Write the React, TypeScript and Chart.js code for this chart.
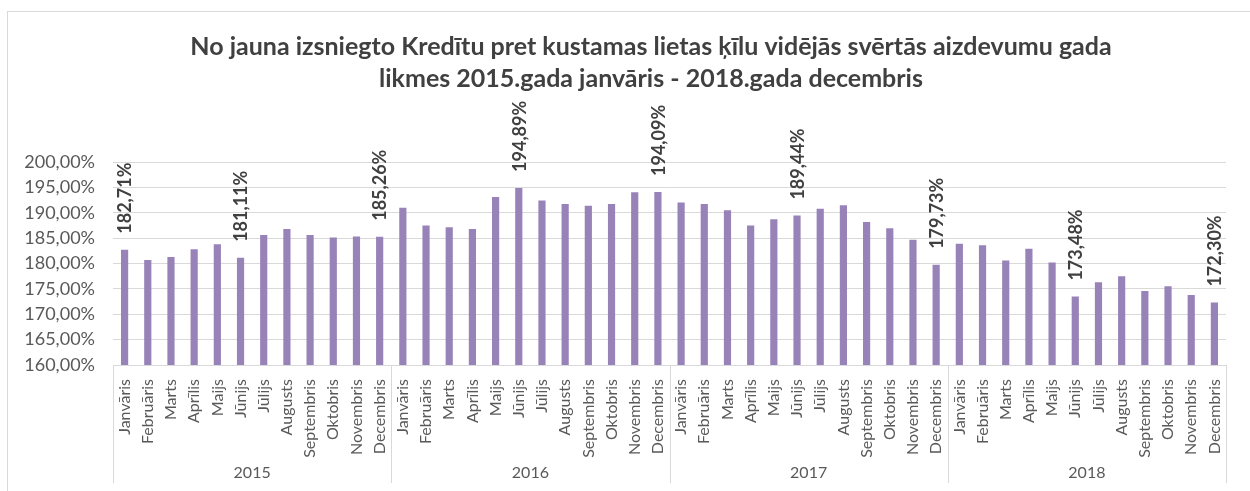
import React, { useEffect, useRef } from "react";
import { Chart, registerables } from "chart.js";

Chart.register(...registerables);

const titleLines = [
  "No jauna izsniegto Kredītu pret kustamas lietas ķīlu vidējās svērtās aizdevumu gada",
  "likmes 2015.gada janvāris - 2018.gada decembris",
];

const years = ["2015", "2016", "2017", "2018"];
const months = [
  "Janvāris", "Februāris", "Marts", "Aprīlis", "Maijs", "Jūnijs",
  "Jūlijs", "Augusts", "Septembris", "Oktobris", "Novembris", "Decembris",
];

const values2015 = [182.71, 180.7, 181.3, 182.8, 183.8, 181.11, 185.6, 186.8, 185.6, 185.1, 185.3, 185.26];
const values2016 = [191.0, 187.5, 187.15, 186.8, 193.1, 194.89, 192.4, 191.7, 191.4, 191.7, 194.05, 194.09];
const values2017 = [192.0, 191.7, 190.5, 187.5, 188.7, 189.44, 190.8, 191.5, 188.2, 186.95, 184.7, 179.73];
const values2018 = [183.9, 183.6, 180.6, 182.9, 180.2, 173.48, 176.3, 177.5, 174.6, 175.5, 173.8, 172.3];

// Months (index within the whole series) whose value is written above the bar
const labeledIndices = [0, 5, 11, 17, 23, 29, 35, 41, 47];

const yMin = 160;
const yMax = 200;
const yStep = 5;

const fmt = (v: number) => v.toFixed(2).replace(".", ",") + "%";

const FONT = "Lato, 'Open Sans', sans-serif";
const barColor = "#9883b9";
const gridColor = "#d9d9d9";
const axisText = "#595959";
const darkText = "#404040";

export default function App() {
  const canvasRef = useRef<HTMLCanvasElement | null>(null);

  useEffect(() => {
    const canvas = canvasRef.current;
    if (!canvas) return;

    const labels: string[] = [];
    years.forEach(() => months.forEach((m) => labels.push(m)));
    const data = [...values2015, ...values2016, ...values2017, ...values2018];

    const titlePlugin = {
      id: "customTitle",
      afterDraw(chart: any) {
        const ctx = chart.ctx;
        ctx.save();
        ctx.font = `bold 25px ${FONT}`;
        ctx.fillStyle = darkText;
        ctx.textAlign = "center";
        ctx.textBaseline = "alphabetic";
        ctx.fillText(titleLines[0], 651, 55);
        ctx.fillText(titleLines[1], 651, 87);
        ctx.restore();
      },
    };

    const groupAxisPlugin = {
      id: "groupAxis",
      afterDraw(chart: any) {
        const ctx = chart.ctx;
        const xs = chart.scales.x;
        const area = chart.chartArea;
        const bottom = chart.height - 8;
        ctx.save();
        ctx.strokeStyle = gridColor;
        ctx.lineWidth = 1;
        for (let g = 0; g <= years.length; g++) {
          let x: number;
          if (g === 0) x = area.left;
          else if (g === years.length) x = area.right;
          else x = (xs.getPixelForValue(g * 12 - 1) + xs.getPixelForValue(g * 12)) / 2;
          x = Math.round(x) + 0.5;
          ctx.beginPath();
          ctx.moveTo(x, area.bottom);
          ctx.lineTo(x, bottom);
          ctx.stroke();
        }
        ctx.font = `16px ${FONT}`;
        ctx.fillStyle = axisText;
        ctx.textAlign = "center";
        ctx.textBaseline = "middle";
        years.forEach((y, g) => {
          const x = (xs.getPixelForValue(g * 12) + xs.getPixelForValue(g * 12 + 11)) / 2;
          ctx.fillText(y, x, 473);
        });
        ctx.restore();
      },
    };

    const dataLabelPlugin = {
      id: "dataLabels",
      afterDatasetsDraw(chart: any) {
        const ctx = chart.ctx;
        const meta = chart.getDatasetMeta(0);
        ctx.save();
        ctx.font = `bold 18px ${FONT}`;
        ctx.fillStyle = darkText;
        ctx.textAlign = "left";
        ctx.textBaseline = "middle";
        labeledIndices.forEach((i) => {
          const bar = meta.data[i];
          if (!bar) return;
          ctx.save();
          ctx.translate(bar.x + 1, bar.y - 16);
          ctx.rotate(-Math.PI / 2);
          ctx.fillText(fmt(data[i]), 0, 0);
          ctx.restore();
        });
        ctx.restore();
      },
    };

    const chart = new Chart(canvas, {
      type: "bar",
      data: {
        labels,
        datasets: [
          {
            data,
            backgroundColor: barColor,
            borderWidth: 0,
            barPercentage: 0.31,
            categoryPercentage: 1,
          },
        ],
      },
      options: {
        responsive: false,
        animation: false,
        devicePixelRatio: 1,
        layout: { padding: { top: 162, right: 24, bottom: 0, left: 0 } },
        plugins: {
          legend: { display: false },
          title: { display: false },
          tooltip: { enabled: false },
        },
        scales: {
          x: {
            type: "category",
            grid: { display: false },
            border: { display: true, color: gridColor },
            ticks: {
              autoSkip: false,
              maxRotation: 90,
              minRotation: 90,
              padding: 6,
              color: axisText,
              font: { family: FONT, size: 16 },
            },
            afterFit(scale: any) {
              scale.height = 126;
            },
          },
          y: {
            min: yMin,
            max: yMax,
            ticks: {
              stepSize: yStep,
              padding: 18,
              color: axisText,
              font: { family: FONT, size: 18 },
              callback: (v: any) => fmt(Number(v)),
            },
            grid: { color: gridColor, drawTicks: false },
            border: { display: false },
            afterFit(scale: any) {
              scale.width = 113;
            },
          },
        },
      },
      plugins: [titlePlugin, groupAxisPlugin, dataLabelPlugin],
    });

    return () => chart.destroy();
  }, []);

  return (
    <div
      style={{
        position: "fixed",
        left: 0,
        top: 0,
        width: 1250,
        height: 491,
        overflow: "hidden",
        background: "#ffffff",
      }}
    >
      <div
        style={{
          position: "absolute",
          left: 7,
          top: 11,
          width: 1300,
          height: 520,
          border: `1px solid ${gridColor}`,
          boxSizing: "border-box",
        }}
      />
      <canvas
        ref={canvasRef}
        width={1250}
        height={491}
        style={{ position: "absolute", left: 0, top: 0, width: 1250, height: 491 }}
      />
    </div>
  );
}
